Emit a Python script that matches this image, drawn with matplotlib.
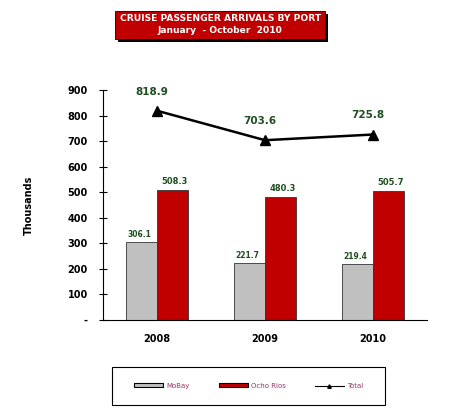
import matplotlib.pyplot as plt
from matplotlib.patches import Rectangle
from matplotlib.lines import Line2D
import numpy as np

years = ['2008', '2009', '2010']
mobay = [306.1, 221.7, 219.4]
ocho_rios = [508.3, 480.3, 505.7]
total = [818.9, 703.6, 725.8]

green = '#1f4f1f'
red = '#c00000'
grey = '#c0c0c0'

fig = plt.figure(figsize=(4.62, 4.11), dpi=100)
ax = fig.add_axes([0.223, 0.2214, 0.701, 0.5596])

x = np.arange(len(years))
w = 0.29
ax.bar(x - w / 2, mobay, w, color=grey, edgecolor='#333333', linewidth=0.6)
ax.bar(x + w / 2, ocho_rios, w, color=red, edgecolor='#333333', linewidth=0.6)
ax.plot(x, total, color='black', lw=1.8, marker='^', ms=7)

for i in range(len(years)):
    ax.text(x[i] - w / 2 - 0.02, mobay[i] + 12, f'{mobay[i]:.1f}', ha='center',
            va='bottom', fontsize=5.5, fontweight='bold', color=green)
    ax.text(x[i] + w / 2 + 0.02, ocho_rios[i] + 15, f'{ocho_rios[i]:.1f}', ha='center',
            va='bottom', fontsize=6, fontweight='bold', color=green)
    ax.text(x[i] - 0.05, total[i] + 55, f'{total[i]:.1f}', ha='center',
            va='bottom', fontsize=7.5, fontweight='bold', color=green)

ax.set_xlim(-0.5, 2.5)
ax.set_ylim(0, 900)
ax.set_yticks(range(0, 1000, 100))
ax.set_yticklabels(['-'] + [str(v) for v in range(100, 1000, 100)])
ax.set_xticks(x)
ax.set_xticklabels(years)
ax.tick_params(axis='y', direction='inout', length=6, width=0.8, labelsize=7, pad=8)
ax.tick_params(axis='x', length=0, labelsize=7, pad=10)
for lab in ax.get_xticklabels() + ax.get_yticklabels():
    lab.set_fontweight('bold')
ax.spines['top'].set_visible(False)
ax.spines['right'].set_visible(False)
ax.set_ylabel('Thousands', fontsize=7, fontweight='bold', labelpad=24)

# title box
fig.patches.append(Rectangle((0.256, 0.898), 0.455, 0.068, transform=fig.transFigure,
                             facecolor='black', edgecolor='none'))
fig.patches.append(Rectangle((0.249, 0.905), 0.455, 0.068, transform=fig.transFigure,
                             facecolor=red, edgecolor='black', linewidth=0.6))
fig.text(0.4765, 0.955, 'CRUISE PASSENGER ARRIVALS BY PORT', ha='center', va='center',
         fontsize=6.6, fontweight='bold', color='white')
fig.text(0.4765, 0.925, 'January  - October  2010', ha='center', va='center',
         fontsize=6.6, fontweight='bold', color='white')

# legend box
fig.patches.append(Rectangle((0.242, 0.015), 0.592, 0.092, transform=fig.transFigure,
                             facecolor='white', edgecolor='black', linewidth=0.8))
handles = [Rectangle((0, 0), 1, 1, facecolor=grey, edgecolor='black', linewidth=0.8),
           Rectangle((0, 0), 1, 1, facecolor=red, edgecolor='black', linewidth=0.8),
           Line2D([], [], color='black', lw=0.8, marker='^', ms=2.5)]
fig.legend(handles, ['MoBay', 'Ocho Rios', 'Total'], loc='center', ncol=3,
           bbox_to_anchor=(0.538, 0.061), frameon=False, fontsize=5,
           labelcolor='#993366', handlelength=4.2, handleheight=0.5,
           columnspacing=4.2, handletextpad=0.4)

fig.savefig('out.png', dpi=100)
